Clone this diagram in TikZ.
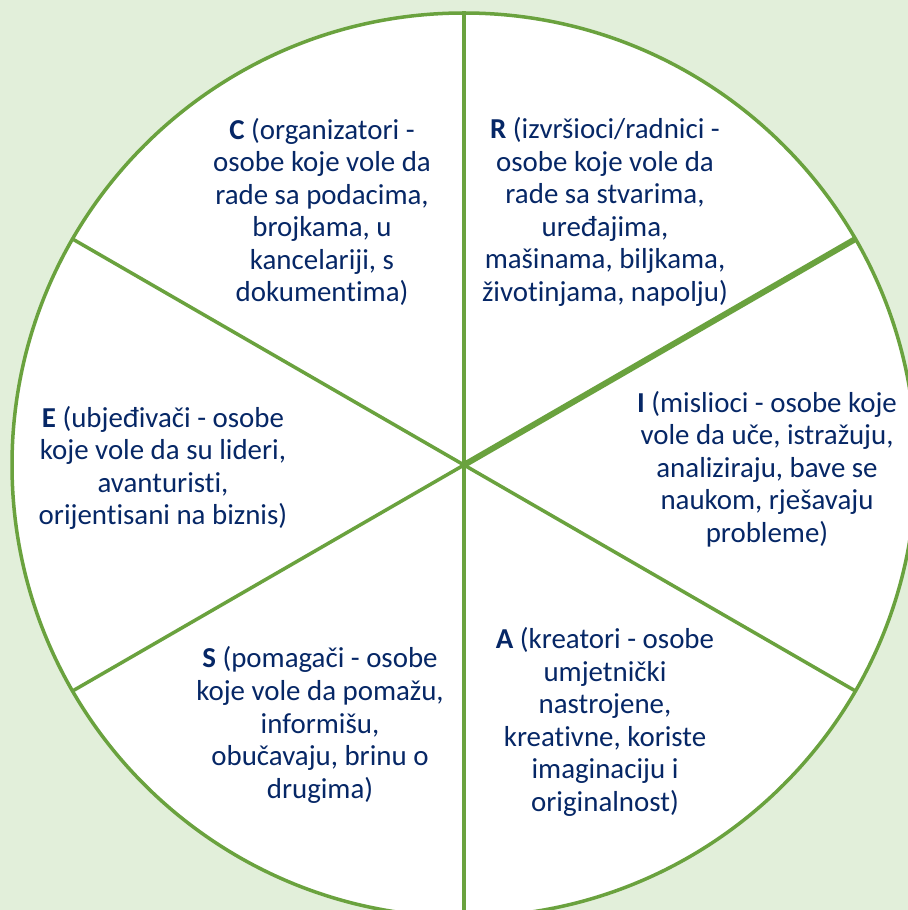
\documentclass[tikz,border=0pt]{standalone}
\usepackage{fontspec}
\setmainfont{Carlito}[Ligatures=NoCommon]
\usetikzlibrary{calc}
\definecolor{bgreen}{HTML}{E2EFDA}
\definecolor{lgreen}{HTML}{6AA23E}
\definecolor{navy}{HTML}{062766}
\begin{document}
\begin{tikzpicture}[x=1bp,y=1bp,
  spoke/.style={draw=lgreen,line width=3.5bp},
  thickspoke/.style={draw=lgreen,line width=6bp},
  label/.style={align=center,text=navy,inner sep=0pt,font=\fontsize{29}{32.7}\selectfont}]
\useasboundingbox (0,0) rectangle (908,910);
\fill[bgreen] (0,0) rectangle (908,910);
\begin{scope}
\clip (0,0) rectangle (908,910);
\coordinate (O) at (464,445);
\fill[white] (O) circle (452);
\coordinate (p90) at ($(O)+(90:452)$);
\coordinate (p30) at ($(O)+(30:452)$);
\coordinate (pm30) at ($(O)+(-30:452)$);
\coordinate (pm90) at ($(O)+(-90:452)$);
\coordinate (p210) at ($(O)+(210:452)$);
\coordinate (p150) at ($(O)+(150:452)$);
\draw[spoke] (O) -- (p90);
\draw[spoke] (O) -- (pm30);
\draw[spoke] (O) -- (pm90);
\draw[spoke] (O) -- (p210);
\draw[spoke] (O) -- (p150);
\draw[thickspoke] (O) -- (p30);
\draw[draw=lgreen,line width=3.5bp] (O) circle (452);
\end{scope}
\node[label] (C) at (322,698) {\textbf{C} (organizatori -\\osobe koje vole da\\rade sa podacima,\\brojkama, u\\kancelariji, s\\dokumentima)};
\node[label] (R) at (605,698) {\textbf{R} (izvršioci/radnici -\\osobe koje vole da\\rade sa stvarima,\\uređajima,\\mašinama, biljkama,\\životinjama, napolju)};
\node[label] (I) at (767,441) {\textbf{I} (mislioci - osobe koje\\vole da uče, istražuju,\\analiziraju, bave se\\naukom, rješavaju\\probleme)};
\node[label] (E) at (163,442) {\textbf{E} (ubjeđivači - osobe\\koje vole da su lideri,\\avanturisti,\\orijentisani na biznis)};
\node[label] (S) at (320,185) {\textbf{S} (pomagači - osobe\\koje vole da pomažu,\\informišu,\\obučavaju, brinu o\\drugima)};
\node[label] (A) at (605,188) {\textbf{A} (kreatori - osobe\\umjetnički\\nastrojene,\\kreativne, koriste\\imaginaciju i\\originalnost)};
\end{tikzpicture}
\end{document}
